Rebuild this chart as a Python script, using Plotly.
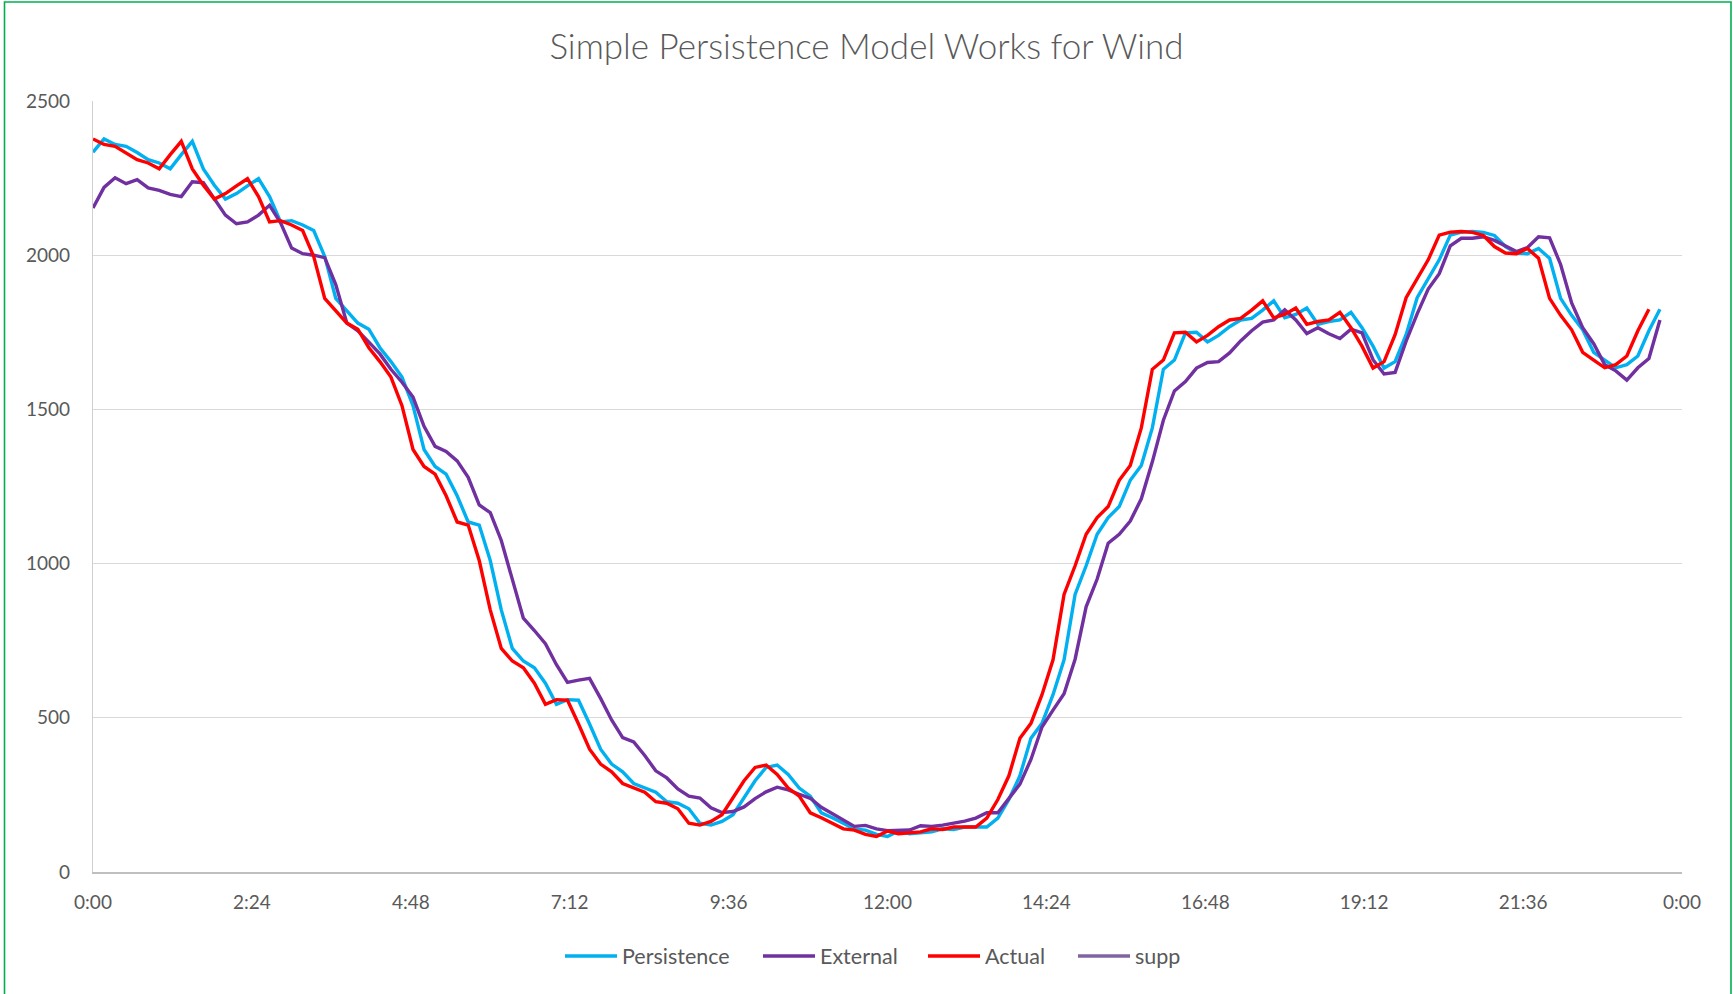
import plotly.graph_objects as go

# ---- data (10-minute samples, minutes after midnight) ----
step_min = 10
actual = [2377, 2359, 2353, 2333, 2310, 2299, 2280, 2326, 2369, 2280,
          2227, 2182, 2200, 2225, 2248, 2190, 2108, 2112, 2098, 2080,
          1996, 1860, 1818, 1780, 1760, 1700, 1655, 1605, 1512, 1370,
          1315, 1290, 1220, 1135, 1125, 1010, 850, 725, 684, 662,
          612, 544, 559, 557, 480, 398, 350, 325, 287, 274,
          259, 228, 223, 205, 158, 152, 164, 186, 239, 296,
          339, 347, 316, 272, 246, 192, 176, 157, 140, 136,
          122, 115, 133, 124, 127, 130, 140, 138, 146, 147,
          146, 175, 235, 312, 434, 482, 575, 688, 900, 993,
          1095, 1149, 1185, 1270, 1318, 1440, 1630, 1660, 1748, 1750,
          1719, 1740, 1768, 1790, 1795, 1822, 1852, 1797, 1808, 1829,
          1776, 1785, 1790, 1815, 1765, 1705, 1634, 1655, 1742, 1862,
          1921, 1985, 2065, 2075, 2077, 2074, 2064, 2028, 2007, 2005,
          2022, 1990, 1860, 1805, 1758, 1685, 1660, 1635, 1645, 1673,
          1755, 1825]

persistence = [2334, 2377, 2359, 2353, 2333, 2310, 2299, 2280, 2326, 2369,
               2280, 2227, 2182, 2200, 2225, 2248, 2190, 2108, 2112, 2098,
               2080, 1996, 1860, 1818, 1780, 1760, 1700, 1655, 1605, 1512,
               1370, 1315, 1290, 1220, 1135, 1125, 1010, 850, 725, 684,
               662, 612, 544, 559, 557, 480, 398, 350, 325, 287,
               274, 259, 228, 223, 205, 158, 152, 164, 186, 239,
               296, 339, 347, 316, 272, 246, 192, 176, 157, 140,
               136, 122, 115, 133, 124, 127, 130, 140, 138, 146,
               147, 146, 175, 235, 312, 434, 482, 575, 688, 900,
               993, 1095, 1149, 1185, 1270, 1318, 1440, 1630, 1660, 1748,
               1750, 1719, 1740, 1768, 1790, 1795, 1822, 1852, 1797, 1808,
               1829, 1776, 1785, 1790, 1815, 1765, 1705, 1634, 1655, 1742,
               1862, 1921, 1985, 2065, 2075, 2077, 2074, 2064, 2028, 2007,
               2005, 2022, 1990, 1860, 1805, 1758, 1685, 1660, 1635, 1645,
               1673, 1755, 1825]

external = [2153, 2220, 2251, 2232, 2245, 2218, 2210, 2197, 2190, 2238,
            2235, 2183, 2130, 2102, 2108, 2130, 2162, 2105, 2023, 2005,
            2000, 1992, 1905, 1780, 1755, 1718, 1680, 1630, 1588, 1540,
            1445, 1380, 1364, 1333, 1280, 1190, 1165, 1075, 945, 823,
            783, 740, 672, 615, 622, 628, 563, 493, 436, 422,
            378, 328, 305, 269, 246, 240, 208, 193, 196, 211,
            238, 260, 275, 266, 252, 239, 210, 190, 168, 148,
            151, 140, 134, 136, 136, 150, 148, 152, 159, 165,
            175, 192, 192, 238, 285, 365, 470, 525, 578, 690,
            860, 950, 1066, 1095, 1138, 1210, 1330, 1465, 1560, 1590,
            1634, 1652, 1655, 1683, 1722, 1755, 1783, 1790, 1823, 1790,
            1746, 1765, 1745, 1730, 1760, 1748, 1661, 1615, 1620, 1721,
            1810, 1890, 1940, 2030, 2055, 2055, 2060, 2048, 2030, 2012,
            2025, 2060, 2056, 1970, 1845, 1765, 1713, 1645, 1625, 1595,
            1635, 1665, 1790]

supp = []  # listed in the legend, nothing plotted

tick_minutes = [0, 144, 288, 432, 576, 720, 864, 1008, 1152, 1296, 1440]
tick_labels = ["0:00", "2:24", "4:48", "7:12", "9:36", "12:00",
               "14:24", "16:48", "19:12", "21:36", "0:00"]

title_text = "Simple Persistence Model Works for Wind"

t_actual = [i * step_min for i in range(len(actual))]
t_pers = [i * step_min for i in range(len(persistence))]
t_ext = [i * step_min for i in range(len(external))]

FONT = "Lato"
GREY = "#595959"
LW = 3.4

fig = go.Figure()
fig.add_trace(go.Scatter(x=t_pers, y=persistence, mode="lines", name="Persistence",
                         line=dict(color="#00B0F0", width=LW), legend="legend"))
fig.add_trace(go.Scatter(x=t_ext, y=external, mode="lines", name="External",
                         line=dict(color="#7030A0", width=LW), legend="legend2"))
fig.add_trace(go.Scatter(x=t_actual, y=actual, mode="lines", name="Actual",
                         line=dict(color="#FF0000", width=LW), legend="legend3"))
fig.add_trace(go.Scatter(x=[None] if not supp else list(range(len(supp))),
                         y=[None] if not supp else supp, mode="lines", name="supp",
                         line=dict(color="#8064A2", width=LW), legend="legend4"))


def legend_at(px_left):
    return dict(orientation="h", xref="container", yref="container",
                x=px_left / 1733, xanchor="left", y=1 - 956 / 994, yanchor="middle",
                font=dict(family=FONT, size=21.5, color=GREY),
                itemwidth=52, bgcolor="rgba(0,0,0,0)")


# left edges of the four legend entries (line starts at ~565, 763, 928, 1078 px)
fig.update_layout(
    legend=legend_at(565 - 5),
    legend2=legend_at(763 - 5),
    legend3=legend_at(928 - 5),
    legend4=legend_at(1078 - 5),
)

fig.update_layout(
    width=1733, height=994,
    margin=dict(l=93, r=51, t=101, b=122),
    paper_bgcolor="white", plot_bgcolor="white",
    font=dict(family=FONT, color=GREY, size=19),
    title=dict(text=title_text, x=0.5, xref="container", xanchor="center",
               y=1 - 47 / 994, yref="container", yanchor="middle",
               font=dict(family=FONT, size=35, color=GREY, weight=300)),
    showlegend=True,
    xaxis=dict(range=[0, 1440], tickmode="array", tickvals=tick_minutes,
               ticktext=tick_labels, showgrid=False, zeroline=False,
               showline=True, linecolor="#BFBFBF", linewidth=1.5,
               ticks="", tickfont=dict(size=19, color=GREY),
               ticklabelstandoff=12),
    yaxis=dict(range=[0, 2500], dtick=500, tick0=0, showgrid=True,
               gridcolor="#D9D9D9", gridwidth=1.3, zeroline=False,
               showline=True, linecolor="#D0D0D0", linewidth=1.3,
               ticks="", tickfont=dict(size=19, color=GREY),
               ticklabelstandoff=18),
    shapes=[dict(type="rect", xref="paper", yref="paper",
                 x0=(4.5 - 93) / 1589, x1=(1731 - 93) / 1589,
                 y0=(872 - 1005) / 771, y1=(872 - 2) / 771,
                 line=dict(color="#00B050", width=1.6), fillcolor="rgba(0,0,0,0)",
                 layer="below")],
)

fig.write_html("out.html", config={"displayModeBar": False},
               post_script="document.body.style.margin='0';document.body.style.overflow='hidden';")
